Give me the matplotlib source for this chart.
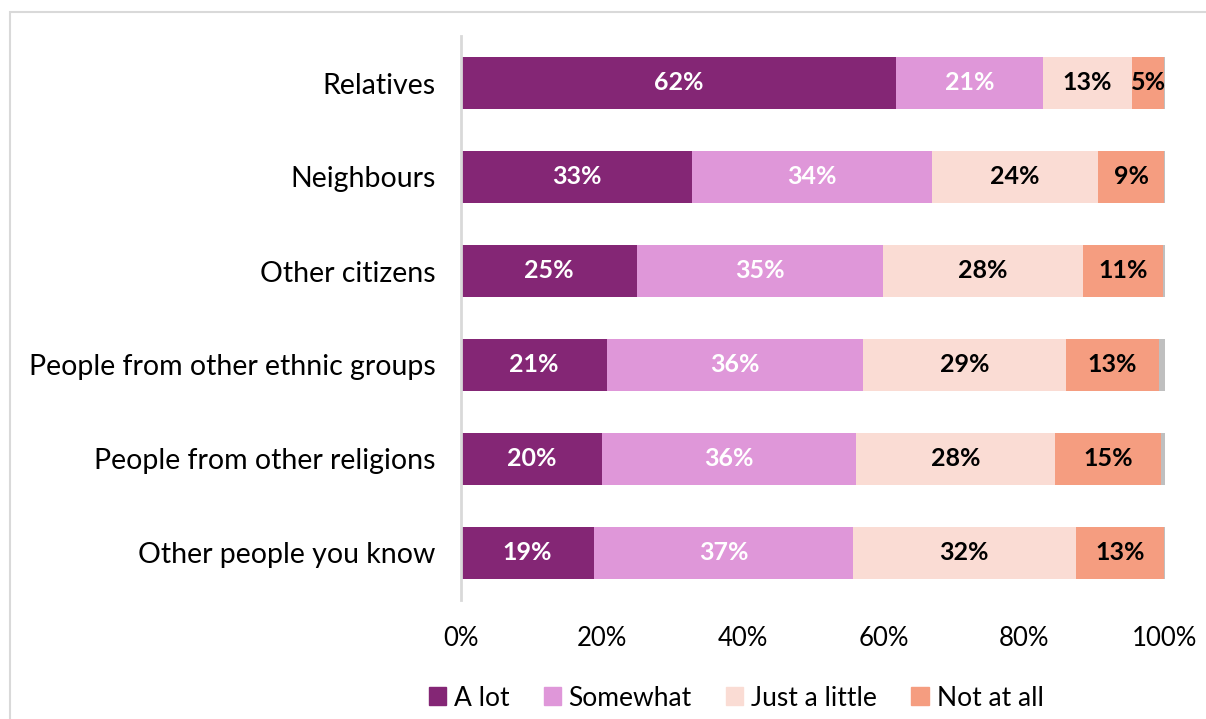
import matplotlib as mpl
mpl.use('Agg')
import matplotlib.pyplot as plt
from matplotlib.patches import Rectangle, Patch
import numpy as np

plt.rcParams['font.family'] = ['Lato', 'DejaVu Sans']

categories = ['Relatives', 'Neighbours', 'Other citizens',
              'People from other ethnic groups', 'People from other religions',
              'Other people you know']
a_lot = [61.8, 32.8, 25.0, 20.7, 20.0, 18.9]
somewhat = [20.9, 34.1, 34.9, 36.4, 36.1, 36.8]
just_little = [12.6, 23.6, 28.4, 28.8, 28.3, 31.6]
not_at_all = [4.6, 9.4, 11.4, 13.3, 15.1, 12.6]
dont_know = [0.1, 0.1, 0.3, 0.8, 0.5, 0.1]

series = [('A lot', a_lot, '#842675', 'white'),
          ('Somewhat', somewhat, '#df97d9', 'white'),
          ('Just a little', just_little, '#fadcd4', 'black'),
          ('Not at all', not_at_all, '#f59d80', 'black')]

fig = plt.figure(figsize=(12.06, 7.19), dpi=100)
ax = fig.add_axes([461/1206, 1 - 600/719, 704/1206, 564/719])

# outer chart frame
fig.patches.append(Rectangle((10/1206, -0.1), 1.2, 1 - 12/719 + 0.1,
                             transform=fig.transFigure, fill=False,
                             edgecolor='#d9d9d9', linewidth=1.5))

y = np.arange(len(categories))
left = np.zeros(len(categories))
for name, vals, color, tcolor in series:
    vals = np.array(vals)
    ax.barh(y, vals, left=left, height=0.55, color=color, label=name)
    for yi, l, v in zip(y, left, vals):
        ax.text(l + v/2, yi, f'{v:.0f}%', ha='center', va='center',
                color=tcolor, fontsize=18, fontweight='bold')
    left += vals
ax.barh(y, dont_know, left=left, height=0.55, color='#bfbfbf')

ax.set_xlim(0, 100)
ax.set_ylim(len(categories) - 0.5, -0.5)
ax.set_yticks(y)
ax.set_yticklabels(categories, fontsize=20.5)
ax.set_xticks(range(0, 101, 20))
ax.set_xticklabels([f'{t}%' for t in range(0, 101, 20)], fontsize=18.5)
ax.tick_params(length=0)
ax.tick_params(axis='x', pad=19)
ax.tick_params(axis='y', pad=18.5)
for s in ['top', 'right', 'bottom']:
    ax.spines[s].set_visible(False)
ax.spines['left'].set_color('#d9d9d9')
ax.spines['left'].set_linewidth(2)

handles = [Patch(color=c) for _, _, c, _ in series]
fig.legend(handles, [n for n, _, _, _ in series], loc='center',
           bbox_to_anchor=(736/1206, 1 - 698/719), ncol=4, frameon=False,
           fontsize=19, handlelength=0.65, handleheight=0.65,
           handletextpad=0.3, columnspacing=1.3)

fig.savefig('out.png', dpi=100)
